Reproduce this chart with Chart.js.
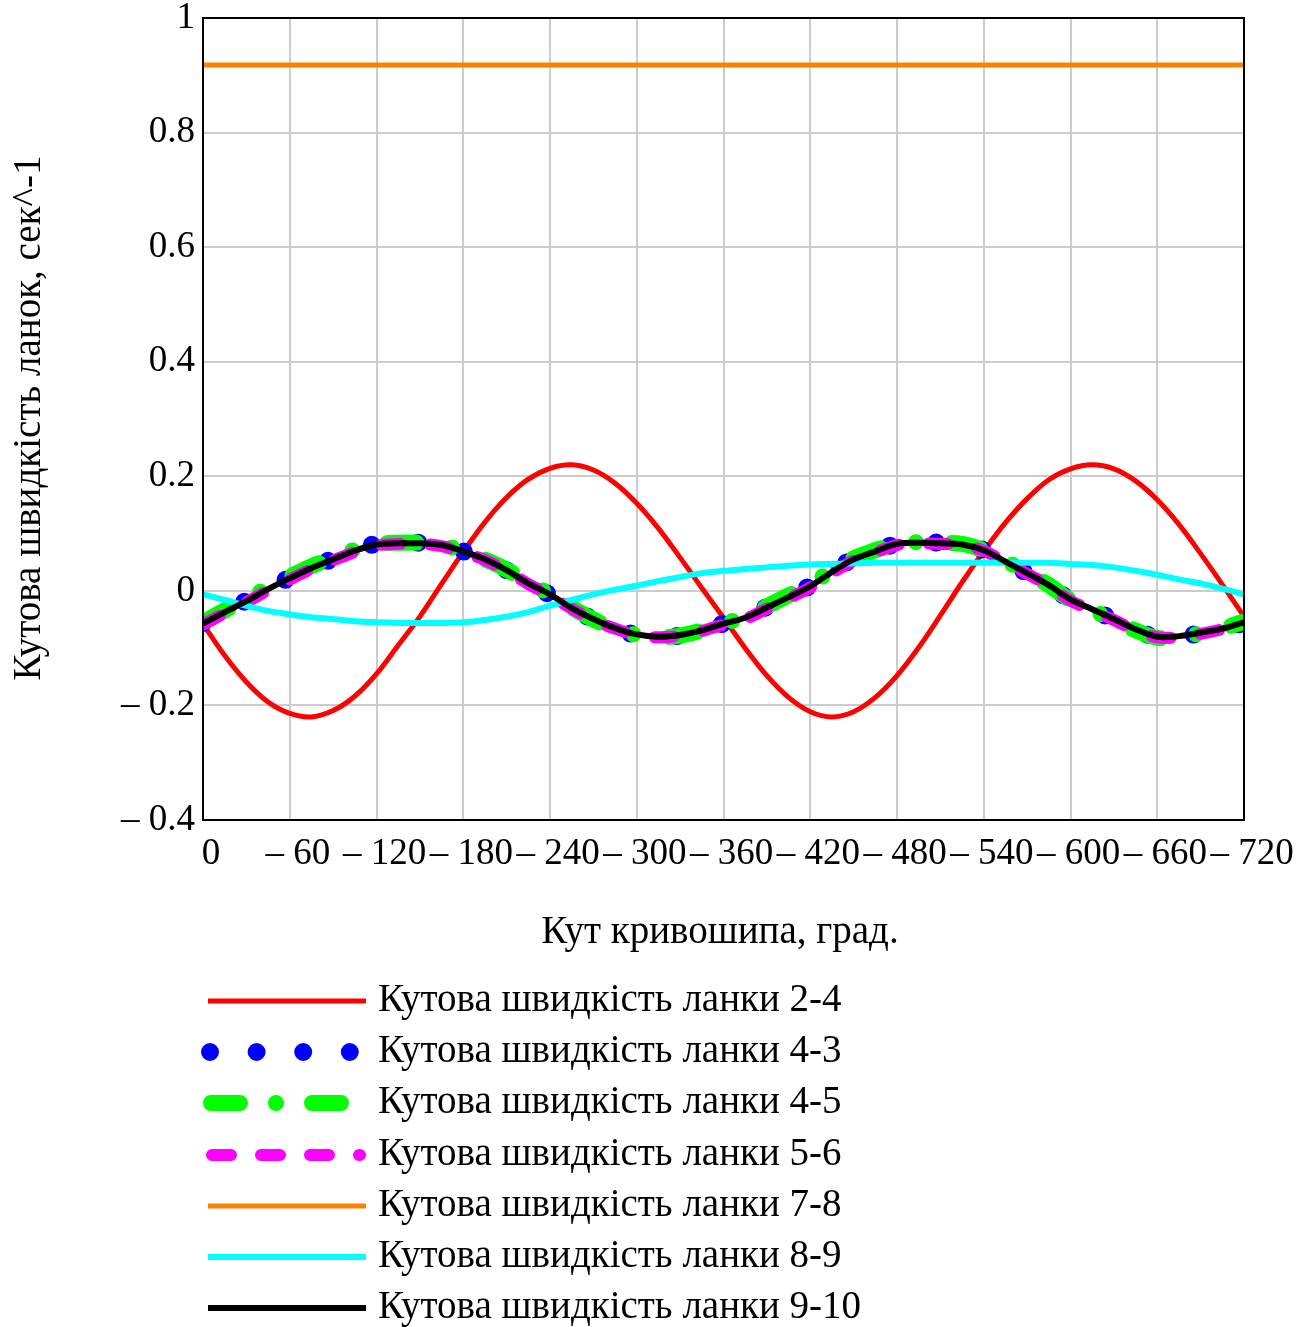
<!DOCTYPE html>
<html>
<head>
<meta charset="utf-8">
<script src="https://cdn.jsdelivr.net/npm/chart.js@4/dist/chart.umd.min.js"></script>
<style>
  html, body { margin: 0; padding: 0; background: #fff; }
  #wrap { width: 1313px; height: 1327px; position: relative; }
</style>
</head>
<body>
<div id="wrap"><canvas id="grafico"></canvas></div>
<script>
// кут кривошипа, град (крок 15)
const kuty = [0, 15, 30, 45, 60, 75, 90, 105, 120, 135, 150, 165, 180, 195, 210, 225, 240, 255, 270, 285,
  300, 315, 330, 345, 360, 375, 390, 405, 420, 435, 450, 465, 480, 495, 510, 525, 540, 555, 570, 585,
  600, 615, 630, 645, 660, 675, 690, 705, 720];

const w24 = [-0.058, -0.113, -0.159, -0.194, -0.214, -0.220, -0.209, -0.184, -0.145, -0.095, -0.045,
  0.012, 0.068, 0.120, 0.163, 0.195, 0.214, 0.220, 0.211, 0.188, 0.153, 0.109, 0.058, 0.005,
  -0.047, -0.100, -0.148, -0.186, -0.211, -0.220, -0.211, -0.186, -0.148, -0.099, -0.043,
  0.015, 0.069, 0.119, 0.161, 0.194, 0.213, 0.220, 0.213, 0.192, 0.159, 0.116, 0.065, 0.011, -0.045];

const w43 = [-0.056, -0.036, -0.017, 0.004, 0.023, 0.041, 0.056, 0.071, 0.082, 0.084, 0.084, 0.080,
  0.069, 0.054, 0.036, 0.013, -0.007, -0.030, -0.050, -0.066, -0.077, -0.081, -0.078, -0.069,
  -0.057, -0.046, -0.028, -0.010, 0.009, 0.034, 0.056, 0.070, 0.082, 0.085, 0.084, 0.081, 0.071,
  0.051, 0.031, 0.010, -0.016, -0.033, -0.050, -0.068, -0.081, -0.080, -0.074, -0.066, -0.056];

const w45 = [-0.055, -0.034, -0.015, 0.006, 0.025, 0.043, 0.058, 0.072, 0.082, 0.084, 0.084, 0.080,
  0.070, 0.055, 0.037, 0.014, -0.006, -0.029, -0.050, -0.066, -0.077, -0.081, -0.078, -0.069,
  -0.057, -0.045, -0.027, -0.008, 0.011, 0.036, 0.057, 0.071, 0.083, 0.085, 0.084, 0.082, 0.071,
  0.052, 0.032, 0.010, -0.016, -0.034, -0.051, -0.069, -0.082, -0.081, -0.074, -0.065, -0.054];

const w56 = [-0.059, -0.039, -0.020, 0.001, 0.020, 0.038, 0.053, 0.068, 0.079, 0.082, 0.082, 0.078,
  0.067, 0.054, 0.035, 0.012, -0.008, -0.031, -0.051, -0.066, -0.077, -0.081, -0.078, -0.070,
  -0.059, -0.049, -0.031, -0.013, 0.006, 0.031, 0.053, 0.067, 0.080, 0.083, 0.082, 0.080, 0.070,
  0.050, 0.030, 0.009, -0.017, -0.034, -0.051, -0.069, -0.081, -0.081, -0.075, -0.067, -0.057];

const kutyPryama = [0, 720];
const w78 = [0.918, 0.918];

const w89 = [-0.006, -0.016, -0.026, -0.035, -0.041, -0.046, -0.049, -0.053, -0.055, -0.056, -0.056,
  -0.056, -0.055, -0.051, -0.045, -0.037, -0.026, -0.016, -0.006, 0.002, 0.009, 0.017, 0.024,
  0.031, 0.035, 0.038, 0.041, 0.044, 0.046, 0.047, 0.048, 0.049, 0.049, 0.049, 0.049, 0.049,
  0.049, 0.049, 0.049, 0.049, 0.047, 0.045, 0.041, 0.035, 0.028, 0.020, 0.013, 0.004, -0.006];

const w910 = [-0.057, -0.037, -0.018, 0.003, 0.022, 0.040, 0.055, 0.070, 0.081, 0.083, 0.083, 0.080,
  0.069, 0.055, 0.036, 0.013, -0.006, -0.030, -0.049, -0.065, -0.076, -0.080, -0.077, -0.069,
  -0.057, -0.047, -0.029, -0.011, 0.008, 0.033, 0.055, 0.069, 0.082, 0.084, 0.083, 0.081, 0.071,
  0.051, 0.031, 0.010, -0.015, -0.032, -0.049, -0.067, -0.080, -0.079, -0.073, -0.066, -0.055];

const yTicks = [-0.4, -0.2, 0, 0.2, 0.4, 0.6, 0.8, 1];

const nazvy = ["Кутова швидкість ланки 2-4", "Кутова швидкість ланки 4-3", "Кутова швидкість ланки 4-5",
  "Кутова швидкість ланки 5-6", "Кутова швидкість ланки 7-8", "Кутова швидкість ланки 8-9",
  "Кутова швидкість ланки 9-10"];

const FONT = "'Liberation Serif', 'Times New Roman', serif";

function tochky(xs, ys) {
  return ys.map((y, i) => ({ x: xs[i], y: y }));
}

// стилі ліній (як у Mathcad)
const styli = [
  { color: "#ff0000", width: 5, dash: [] },
  { color: "#0000ff", width: 18, dash: [0, 46.6] },
  { color: "#00ff00", width: 16, dash: [29, 36, 0, 36] },
  { color: "#ff00ff", width: 12, dash: [19, 30] },
  { color: "#ff8000", width: 5, dash: [] },
  { color: "#00ffff", width: 6, dash: [] },
  { color: "#000000", width: 6, dash: [] }
];

const serii = [
  tochky(kuty, w24), tochky(kuty, w43), tochky(kuty, w45), tochky(kuty, w56),
  tochky(kutyPryama, w78), tochky(kuty, w89), tochky(kuty, w910)
];

const datasets = serii.map((d, i) => ({
  label: nazvy[i],
  data: d,
  borderColor: styli[i].color,
  backgroundColor: styli[i].color,
  borderWidth: styli[i].width,
  borderDash: styli[i].dash,
  borderCapStyle: styli[i].dash.length ? "round" : "butt",
  borderJoinStyle: "round",
  pointRadius: 0,
  tension: 0.35,
  fill: false,
  order: 6 - i
}));

// рамка, підписи осей та легенда
const dodatky = {
  id: "dodatky",
  afterDraw(chart) {
    const ctx = chart.ctx;
    const a = chart.chartArea;
    ctx.save();
    ctx.strokeStyle = "#000";
    ctx.lineWidth = 2;
    ctx.strokeRect(a.left, a.top, a.right - a.left, a.bottom - a.top);

    ctx.fillStyle = "#000";
    ctx.font = "39px " + FONT;
    ctx.textAlign = "center";
    ctx.textBaseline = "middle";
    ctx.fillText("Кут кривошипа, град.", 720, 933);

    ctx.save();
    ctx.translate(30, 418);
    ctx.rotate(-Math.PI / 2);
    ctx.fillText("Кутова швидкість ланок, сек^-1", 0, 0);
    ctx.restore();

    const rows = [1001, 1052, 1103, 1155, 1206, 1257, 1308];
    rows.forEach((y, i) => {
      const s = styli[i];
      ctx.beginPath();
      ctx.strokeStyle = s.color;
      ctx.lineWidth = s.width;
      ctx.setLineDash(s.dash);
      ctx.lineCap = s.dash.length ? "round" : "butt";
      if (i === 1) {
        ctx.moveTo(210, y); ctx.lineTo(352, y);
      } else if (i === 3) {
        ctx.moveTo(212, y); ctx.lineTo(360, y);
      } else if (i === 2) {
        ctx.moveTo(211, y); ctx.lineTo(345, y);
      } else {
        ctx.moveTo(208, y); ctx.lineTo(366, y);
      }
      ctx.stroke();
      ctx.setLineDash([]);
      ctx.fillStyle = "#000";
      ctx.font = "39px " + FONT;
      ctx.textAlign = "left";
      ctx.textBaseline = "middle";
      ctx.fillText(nazvy[i], 378, y);
    });
    ctx.restore();
  }
};

new Chart(document.getElementById("grafico"), {
  type: "line",
  data: { datasets: datasets },
  options: {
    responsive: true,
    maintainAspectRatio: false,
    animation: false,
    layout: { padding: { top: 18, right: 69, left: 0, bottom: 0 } },
    plugins: { legend: { display: false }, tooltip: { enabled: false } },
    scales: {
      x: {
        type: "linear",
        min: 0,
        max: 720,
        afterFit: s => { s.height = 507; },
        grid: { color: "#cccccc", lineWidth: 2, drawTicks: false },
        border: { color: "#000", width: 2 },
        ticks: {
          stepSize: 60,
          padding: 12,
          labelOffset: 8,
          color: "#000",
          maxRotation: 0,
          autoSkip: false,
          font: { family: FONT, size: 37 },
          callback: v => (v === 0 ? "0" : "– " + v)
        }
      },
      y: {
        min: -0.4,
        max: 1,
        afterFit: s => { s.width = 203; s.paddingTop = 0; s.paddingBottom = 0; },
        afterBuildTicks: s => { s.ticks = yTicks.map(v => ({ value: v })); },
        grid: { color: "#cccccc", lineWidth: 2, drawTicks: false },
        border: { color: "#000", width: 2 },
        ticks: {
          padding: 8,
          color: "#000",
          font: { family: FONT, size: 37 },
          callback: v => {
            const r = Math.round(v * 10) / 10;
            return r < 0 ? "– " + Math.abs(r) : String(r);
          }
        }
      }
    }
  },
  plugins: [dodatky]
});
</script>
</body>
</html>
